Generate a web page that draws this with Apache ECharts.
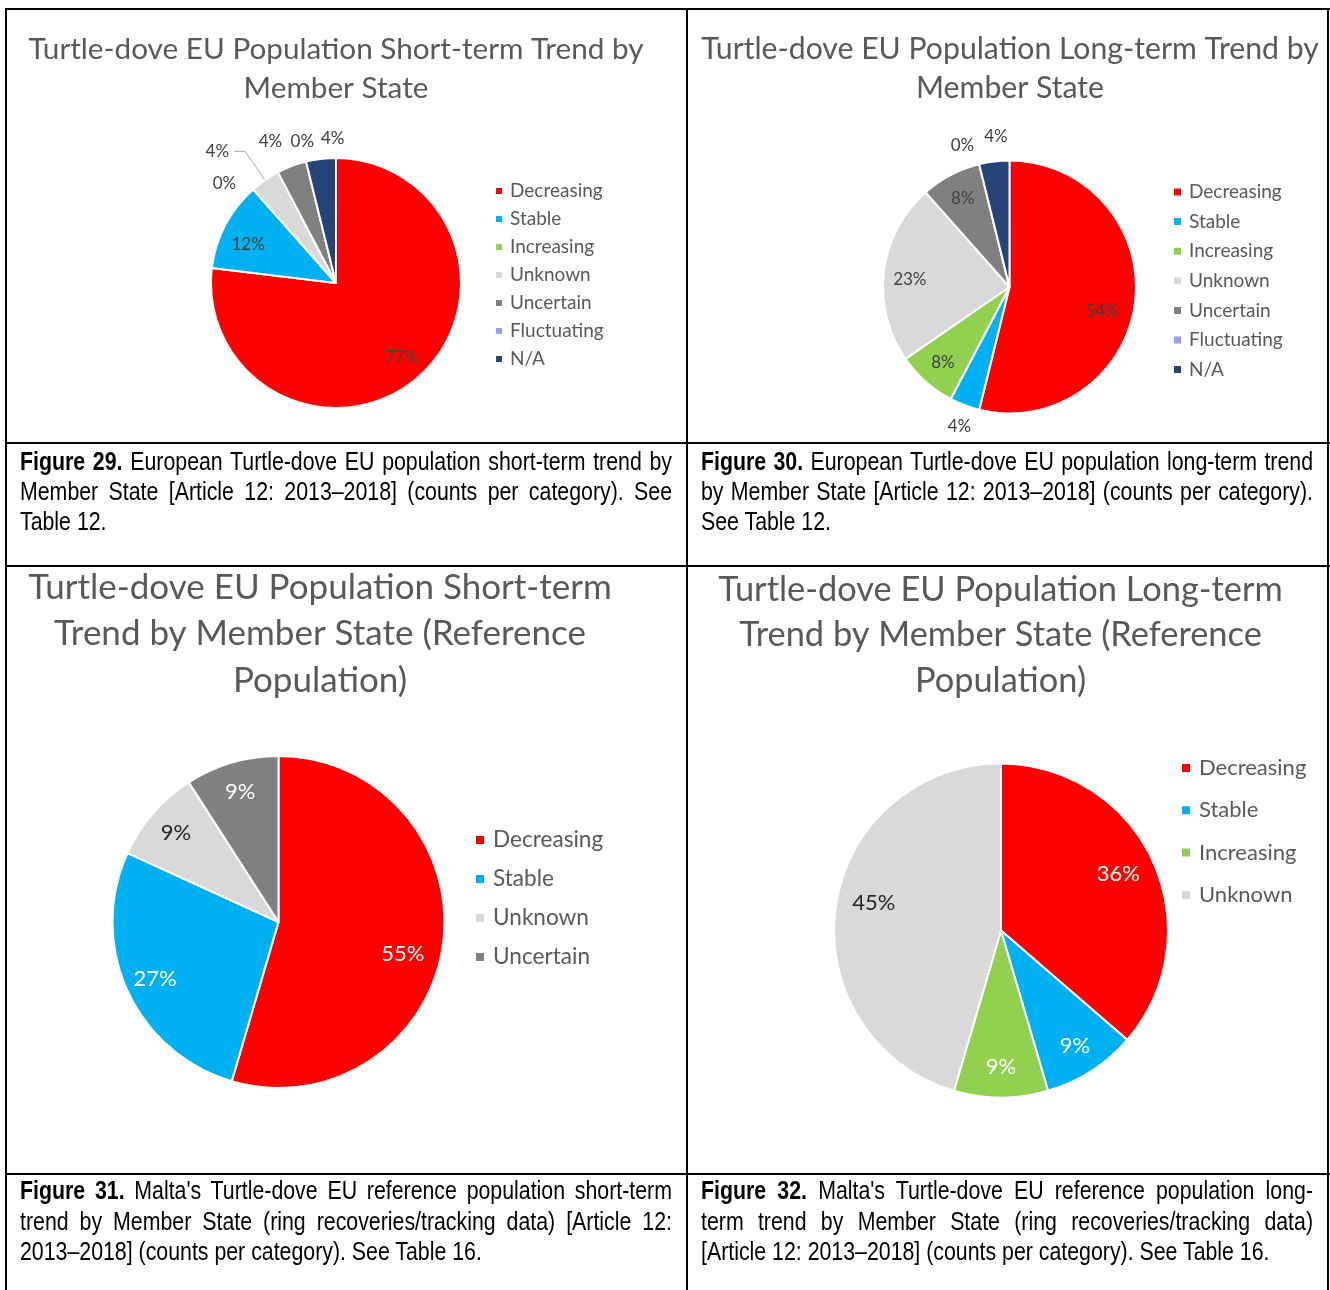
<!DOCTYPE html>
<html>
<head>
<meta charset="utf-8">
<title>Turtle-dove trend pies</title>
<script src="https://cdn.jsdelivr.net/npm/echarts/dist/echarts.min.js"></script>
<style>
  html, body { margin: 0; padding: 0; background: #fff; }
  #page { position: relative; width: 1330px; height: 1290px; overflow: hidden; }
  #chart { position: absolute; left: 0; top: 0; width: 1330px; height: 1290px; }
  .rule { position: absolute; background: #000; }
  /* no Arial Narrow here: squeeze Liberation Sans instead */
  .caption {
    position: absolute; color: #000;
    font-family: "Liberation Sans", Arial, sans-serif;
    font-size: 26px; line-height: 30px;
    transform: scaleX(0.82); transform-origin: 0 0;
  }
  .caption div { text-align: justify; text-align-last: justify; white-space: nowrap; }
  .caption div.last { text-align-last: left; }
</style>
</head>
<body>
<div id="page">
  <div id="chart"></div>
</div>
<script>
// ---- data ----
const categories = ['Decreasing', 'Stable', 'Increasing', 'Unknown', 'Uncertain', 'Fluctuating', 'N/A']
const shortTermCounts = [20, 3, 0, 1, 1, 0, 1]
const longTermCounts = [14, 1, 2, 6, 2, 0, 1]
const refShortCategories = ['Decreasing', 'Stable', 'Unknown', 'Uncertain']
const refShortCounts = [6, 3, 1, 1]
const refLongCategories = ['Decreasing', 'Stable', 'Increasing', 'Unknown']
const refLongCounts = [4, 1, 1, 5]

const chartTitles = [
  'Turtle-dove EU Population Short-term Trend by\nMember State',
  'Turtle-dove EU Population Long-term Trend by\nMember State',
  'Turtle-dove EU Population Short-term\nTrend by Member State (Reference\nPopulation)',
  'Turtle-dove EU Population Long-term\nTrend by Member State (Reference\nPopulation)',
]
const captions = [
  ['Figure 29.', ' European Turtle-dove EU population short-term trend by',
    'Member State [Article 12: 2013–2018] (counts per category). See', 'Table 12.'],
  ['Figure 30.', ' European Turtle-dove EU population long-term trend',
    'by Member State [Article 12: 2013–2018] (counts per category).', 'See Table 12.'],
  ['Figure 31.', ' Malta\'s Turtle-dove EU reference population short-term',
    'trend by Member State (ring recoveries/tracking data) [Article 12:',
    '2013–2018] (counts per category). See Table 16.'],
  ['Figure 32.', ' Malta\'s Turtle-dove EU reference population long-',
    'term trend by Member State (ring recoveries/tracking data)',
    '[Article 12: 2013–2018] (counts per category). See Table 16.'],
]

// ---- styles ----
const colors = {
  Decreasing: '#FF0000', Stable: '#00B0F0', Increasing: '#92D050', Unknown: '#D9D9D9',
  Uncertain: '#808080', Fluctuating: '#9999FF', 'N/A': '#264478',
}
const FONT = 'Lato'

// nudge = outside label offsets, inNudge = inside label offsets (Excel "best fit" look)
const panels = [
  { names: categories, values: shortTermCounts, center: [336, 283], r: 125,
    titleX: 336, titleTop: 29.5, titleSize: 29.7, titleLH: 39,
    legend: { left: 494, top: 181, size: 19, lh: 20, gap: 8, icon: 8, pad: 2 },
    labelSize: 17, labelMid: 0.77, darkText: '#404040', lightText: '#404040',
    leader: { Unknown: { length: 35, length2: 11 } },
    nudge: { Increasing: { dx: 2, dy: 10 }, Uncertain: { dx: 3, dy: -5 },
      Fluctuating: { dx: 18 }, 'N/A': { dx: 31 } },
    inNudge: { Stable: { dy: 8 } } },
  { names: categories, values: longTermCounts, center: [1009.5, 287], r: 126.5,
    titleX: 1010, titleTop: 29.5, titleSize: 30.2, titleLH: 39,
    legend: { left: 1172, top: 181, size: 19, lh: 22, gap: 7.6, icon: 9, pad: 2 },
    labelSize: 17, labelMid: 0.77, darkText: '#404040', lightText: '#404040',
    leader: {},
    nudge: { Stable: { dx: 19, dy: 2 }, Fluctuating: { dx: 5, dy: 2 }, 'N/A': { dx: 21, dy: -4 } },
    inNudge: { Decreasing: { dx: -7, dy: 12 }, Unknown: { dy: 5 } } },
  { names: refShortCategories, values: refShortCounts, center: [278.5, 922], r: 166,
    titleX: 320, titleTop: 564, titleSize: 35, titleLH: 46.5,
    legend: { left: 474, top: 828, size: 22.6, lh: 24, gap: 15, icon: 10, pad: 3 },
    labelSize: 22, labelMid: 0.8, darkText: '#262626', lightText: '#ffffff',
    leader: {}, nudge: {},
    inNudge: { Decreasing: { dx: -10, dy: 13 } } },
  { names: refLongCategories, values: refLongCounts, center: [1001, 930.5], r: 167,
    titleX: 1000.5, titleTop: 567, titleSize: 34.4, titleLH: 45.5,
    legend: { left: 1180, top: 756, size: 22, lh: 24, gap: 18.3, icon: 10, pad: 3 },
    labelSize: 22, labelMid: 0.8, darkText: '#262626', lightText: '#ffffff',
    leader: {}, nudge: {},
    inNudge: { Decreasing: { dx: -7 }, Unknown: { dx: 8, dy: -8 } } },
]

const pct = p => Math.round(p.percent) + '%'

const title = []
const legend = []
const series = []

panels.forEach((pn, k) => {
  const total = pn.values.reduce((a, b) => a + b, 0)
  const isInside = i => pn.values[i] / total >= 0.06
  const textColor = n => (n === 'Unknown' ? pn.darkText : pn.lightText)

  title.push({
    text: chartTitles[k], left: pn.titleX, top: pn.titleTop, textAlign: 'center', padding: 0,
    textStyle: { fontFamily: FONT, fontSize: pn.titleSize, fontWeight: 'normal',
      color: '#595959', lineHeight: pn.titleLH },
  })

  legend.push({
    data: pn.names, orient: 'vertical', left: pn.legend.left, top: pn.legend.top,
    padding: 0, itemGap: pn.legend.gap, itemWidth: pn.legend.icon, itemHeight: pn.legend.icon,
    icon: 'rect', selectedMode: false,
    textStyle: { fontFamily: FONT, fontSize: pn.legend.size, color: '#595959',
      lineHeight: pn.legend.lh, padding: [0, 0, 0, pn.legend.pad] },
  })

  // main pie: sectors + the small outside labels
  series.push({
    type: 'pie', center: pn.center, radius: pn.r, startAngle: 90, clockwise: true,
    avoidLabelOverlap: false, silent: true, animation: false,
    itemStyle: { borderColor: '#fff', borderWidth: 2 },
    label: { show: true, position: 'outside', formatter: pct, fontFamily: FONT,
      fontSize: pn.labelSize, color: pn.darkText },
    labelLine: { show: false, length: 21, length2: 0, lineStyle: { color: '#A6A6A6', width: 1 } },
    labelLayout: p => pn.nudge[pn.names[p.dataIndex]] || {},
    data: pn.names.map((n, i) => {
      const d = { name: n, value: pn.values[i], itemStyle: { color: colors[n] } }
      if (isInside(i)) d.label = { show: false }
      else if (pn.leader[n]) d.labelLine = Object.assign({ show: true }, pn.leader[n])
      return d
    }),
  })

  // transparent ring, only to place the inside labels further out like Excel does
  series.push({
    type: 'pie', center: pn.center, radius: [pn.r * (2 * pn.labelMid - 1), pn.r],
    startAngle: 90, clockwise: true, silent: true, animation: false,
    itemStyle: { color: 'rgba(0,0,0,0)', borderWidth: 0 },
    label: { show: true, position: 'inside', formatter: pct, fontFamily: FONT,
      fontSize: pn.labelSize },
    labelLine: { show: false },
    labelLayout: p => pn.inNudge[pn.names[p.dataIndex]] || {},
    data: pn.names.map((n, i) => ({
      name: n, value: pn.values[i],
      label: isInside(i) ? { show: true, color: textColor(n) } : { show: false },
    })),
  })
})

const chart = echarts.init(document.getElementById('chart'))
chart.setOption({ backgroundColor: '#fff', animation: false, title, legend, series })

// ---- table frame and figure captions ----
const page = document.getElementById('page')
const rules = [
  [5, 8, 1325, 2], [5, 442, 1325, 2], [5, 565, 1325, 2], [5, 1173, 1325, 2],
  [5, 8, 2, 1282], [686, 8, 2, 1282], [1327, 8, 2, 1282],
]
rules.forEach(([x, y, w, h]) => {
  const d = document.createElement('div')
  d.className = 'rule'
  Object.assign(d.style, { left: x + 'px', top: y + 'px', width: w + 'px', height: h + 'px' })
  page.appendChild(d)
})

const SQUEEZE = 0.82
const capBoxes = [[20, 446, 652, 30], [701, 446, 612, 30], [20, 1175, 652, 30.5], [701, 1175, 612, 30.5]]
captions.forEach((c, k) => {
  const box = document.createElement('div')
  box.className = 'caption'
  const [x, y, w, lh] = capBoxes[k]
  Object.assign(box.style, { left: x + 'px', top: y + 'px', width: (w / SQUEEZE) + 'px', lineHeight: lh + 'px' })
  const lines = [c[1], ...c.slice(2)]
  lines.forEach((t, i) => {
    const ln = document.createElement('div')
    if (i === lines.length - 1) ln.className = 'last'
    if (i === 0) {
      const b = document.createElement('b')
      b.textContent = c[0]
      ln.appendChild(b)
    }
    ln.appendChild(document.createTextNode(t))
    box.appendChild(ln)
  })
  page.appendChild(box)
})
</script>
</body>
</html>
